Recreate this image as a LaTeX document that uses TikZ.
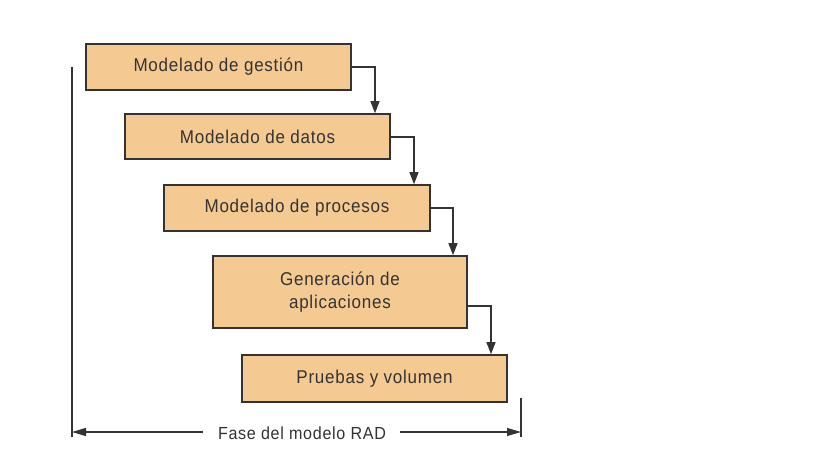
\documentclass[tikz,border=0pt]{standalone}
\usepackage{fontspec}
\setmainfont{Liberation Sans}[LetterSpace=4,FakeStretch=0.92]
\usetikzlibrary{arrows.meta}
\definecolor{boxfill}{HTML}{F5C992}
\definecolor{ink}{HTML}{333333}
\begin{document}
\begin{tikzpicture}[x=1pt,y=-1pt,
  stage/.style={draw=ink,line width=1.6pt,fill=boxfill,text=ink,font=\fontsize{18.5}{23}\selectfont,align=center,inner sep=0pt},
  conn/.style={draw=ink,line width=1.1pt,-{Triangle[width=9pt,length=12pt]}},
  dimarrow/.style={draw=ink,line width=1.1pt,-{Triangle[width=8pt,length=14pt]}},
  dim/.style={draw=ink,line width=1.1pt}]
\useasboundingbox (0,0) rectangle (819,460);
\node[stage,minimum width=265pt,minimum height=46pt] (b1) at (218.5,67) {Modelado de gestión};
\node[stage,minimum width=265pt,minimum height=45pt] (b2) at (257.5,136.5) {Modelado de datos};
\node[stage,minimum width=266pt,minimum height=46pt] (b3) at (297,208) {Modelado de procesos};
\node[stage,minimum width=254pt,minimum height=72pt] (b4) at (340,292) {Generación de\\aplicaciones};
\node[stage,minimum width=265pt,minimum height=47pt] (b5) at (374.5,378.5) {Pruebas y volumen};
\coordinate (c1) at (375,67);
\coordinate (c2) at (414,137);
\coordinate (c3) at (453,208);
\coordinate (c4) at (491,306);
\draw[conn] (b1.east |- c1) -- (c1) -- (c1 |- b2.north);
\draw[conn] (b2.east |- c2) -- (c2) -- (c2 |- b3.north);
\draw[conn] (b3.east |- c3) -- (c3) -- (c3 |- b4.north);
\draw[conn] (b4.east |- c4) -- (c4) -- (c4 |- b5.north);
\coordinate (lt) at (72,67);
\coordinate (lb) at (72,437);
\coordinate (rt) at (521,398);
\coordinate (rb) at (521,437);
\draw[dim] (lt) -- (lb);
\draw[dim] (rt) -- (rb);
\node[text=ink,font=\fontsize{17.5}{21}\selectfont,inner sep=0pt] (lab) at (302,433) {Fase del modelo RAD};
\coordinate (al) at (72,432);
\coordinate (ar) at (521,432);
\draw[dimarrow] ([xshift=-15pt]lab.west |- al) -- (al);
\draw[dimarrow] ([xshift=14pt]lab.east |- ar) -- (ar);
\end{tikzpicture}
\end{document}
